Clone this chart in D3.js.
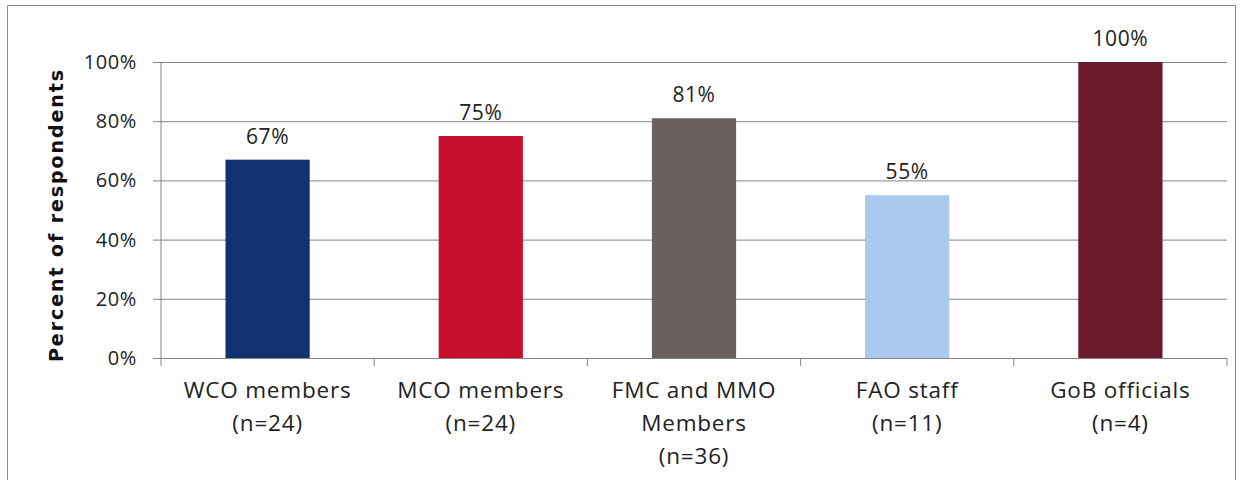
<!DOCTYPE html>
<html lang="en">
<head>
    <meta charset="UTF-8">
    <title>Percent of respondents</title>
    <script src="https://d3js.org/d3.v7.min.js"></script>
    <style>
        body {
            margin: 0;
            background: white;
            font-family: "Open Sans", Lato, sans-serif;
        }
        svg text {
            font-family: "Open Sans", Lato, sans-serif;
        }
    </style>
</head>
<body>
    <div id="chart"></div>
    <script>
        // data
        const categories = [
            ["WCO members", "(n=24)"],
            ["MCO members", "(n=24)"],
            ["FMC and MMO", "Members", "(n=36)"],
            ["FAO staff", "(n=11)"],
            ["GoB officials", "(n=4)"]
        ];
        const values = [67, 75, 81, 55, 100];
        const barColors = ["#10336f", "#c8102e", "#6a615f", "#a9c9ef", "#6b1a2e"];
        const yTicks = [0, 20, 40, 60, 80, 100];

        const width = 1250, height = 480;
        const margin = {top: 62, right: 23, bottom: 122, left: 161};

        const svg = d3.select("#chart").append("svg")
            .attr("width", width)
            .attr("height", height);

        // outer frame
        svg.append("rect")
            .attr("x", 7.5).attr("y", 5.5)
            .attr("width", 1228).attr("height", 480)
            .attr("fill", "none")
            .attr("stroke", "#8c8c8c")
            .attr("stroke-width", 1);

        const x = d3.scaleBand()
            .domain(d3.range(categories.length))
            .range([margin.left, width - margin.right])
            .paddingInner(0.605)
            .paddingOuter(0.3025);

        const y = d3.scaleLinear()
            .domain([0, 100])
            .range([height - margin.bottom, margin.top]);

        // gridlines + y ticks
        svg.append("g")
            .attr("transform", `translate(${margin.left},0)`)
            .call(d3.axisLeft(y)
                .tickValues(yTicks)
                .tickSize(-(width - margin.left - margin.right))
                .tickFormat(d => d + "%"))
            .call(g => g.select(".domain").remove())
            .call(g => g.selectAll(".tick line")
                .attr("x1", -8)
                .attr("stroke", "#858585"))
            .call(g => g.selectAll(".tick text")
                .attr("x", -24)
                .attr("fill", "#222")
                .style("font-size", "20px")
                .style("letter-spacing", "0.6px"));

        // y axis line
        svg.append("line")
            .attr("x1", margin.left).attr("x2", margin.left)
            .attr("y1", y(100)).attr("y2", y(0) + 8)
            .attr("stroke", "#858585");

        // category tick marks on x axis
        svg.append("g")
            .selectAll("line")
            .data(d3.range(1, categories.length + 1))
            .join("line")
            .attr("x1", i => margin.left + i * x.step())
            .attr("x2", i => margin.left + i * x.step())
            .attr("y1", y(0)).attr("y2", y(0) + 8)
            .attr("stroke", "#858585");

        // bars
        svg.append("g")
            .selectAll("rect")
            .data(values)
            .join("rect")
            .attr("x", (d, i) => x(i))
            .attr("y", d => y(d))
            .attr("width", x.bandwidth())
            .attr("height", d => y(0) - y(d))
            .attr("fill", (d, i) => barColors[i]);

        // value labels
        svg.append("g")
            .selectAll("text")
            .data(values)
            .join("text")
            .attr("x", (d, i) => x(i) + x.bandwidth() / 2)
            .attr("y", d => y(d) - 16)
            .attr("text-anchor", "middle")
            .attr("fill", "#222")
            .style("font-size", "21px")
            .style("letter-spacing", "0.6px")
            .text(d => d + "%");

        // category labels
        const catLabels = svg.append("g")
            .selectAll("text")
            .data(categories)
            .join("text")
            .attr("x", (d, i) => x(i) + x.bandwidth() / 2)
            .attr("y", y(0) + 40)
            .attr("text-anchor", "middle")
            .attr("fill", "#222")
            .style("font-size", "22.5px")
            .style("letter-spacing", "0.8px");

        catLabels.selectAll("tspan")
            .data(d => d)
            .join("tspan")
            .attr("x", function() { return this.parentNode.getAttribute("x"); })
            .attr("dy", (d, i) => i === 0 ? 0 : 33)
            .text(d => d);

        // y axis title
        svg.append("text")
            .attr("transform", `translate(63,${(y(0) + y(100)) / 2 + 6}) rotate(-90)`)
            .attr("text-anchor", "middle")
            .attr("fill", "#111")
            .attr("textLength", 292)
            .attr("lengthAdjust", "spacing")
            .style("font-family", "'DejaVu Sans', sans-serif")
            .style("font-size", "19px")
            .style("font-weight", "bold")
            .text("Percent of respondents");
    </script>
</body>
</html>
